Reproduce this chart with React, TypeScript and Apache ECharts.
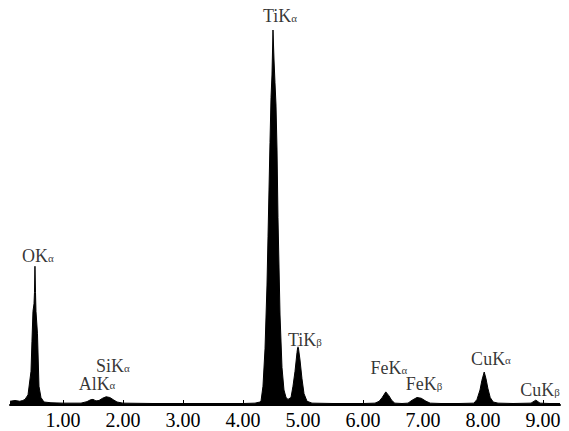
import React, { useEffect, useRef } from "react";
import * as echarts from "echarts";

// Spectrum: energy (keV) and counts (relative)
const energy = [
  0.117, 0.2, 0.28, 0.33, 0.367, 0.417, 0.467, 0.483, 0.5, 0.517, 0.525, 0.533, 0.542, 0.55, 0.575, 0.6, 0.633, 0.683,
  0.8, 1.0, 1.2, 1.3, 1.4, 1.46, 1.5, 1.55, 1.6, 1.66, 1.72, 1.78, 1.84, 1.9, 2.0,
  2.5, 3.0, 3.5, 4.0, 4.2, 4.283, 4.3, 4.333, 4.367, 4.4, 4.417, 4.45, 4.467, 4.483, 4.5,
  4.517, 4.533, 4.55, 4.567, 4.583, 4.617, 4.65, 4.683, 4.717, 4.75, 4.8, 4.833, 4.867,
  4.9, 4.917, 4.95, 4.983, 5.017, 5.067, 5.15, 5.5, 6.0, 6.2, 6.27, 6.32, 6.38, 6.43,
  6.48, 6.53, 6.65, 6.75, 6.82, 6.9, 6.97, 7.05, 7.12, 7.3, 7.6, 7.85, 7.9, 7.95, 7.98,
  8.02, 8.05, 8.08, 8.12, 8.17, 8.25, 8.5, 8.8, 8.88, 8.95, 9.1, 9.283,
];
const counts = [
  1.0, 1.2, 1.0, 1.2, 1.5, 2.7, 9, 17, 25, 27, 30, 37, 30, 25, 19, 5, 2, 0.8,
  0.6, 0.5, 0.5, 0.5, 0.9, 1.4, 1.5, 1.1, 1.2, 1.8, 2.2, 2.0, 1.4, 0.8, 0.5,
  0.4, 0.4, 0.4, 0.4, 0.5, 0.8, 1, 5, 15, 32, 45, 70, 82, 88, 100,
  92, 86, 80, 68, 50, 24, 10, 4, 2, 1.5, 2, 5, 9,
  14, 16, 12, 7, 3, 1, 0.5, 0.4, 0.4, 0.5, 1.0, 2, 3.5, 2.5,
  1.2, 0.5, 0.4, 0.5, 1.3, 2.0, 1.8, 1.0, 0.5, 0.4, 0.4, 0.5, 1.5, 4, 6.5,
  8.8, 7, 4.5, 2, 0.8, 0.5, 0.4, 0.5, 1.3, 0.5, 0.4, 0.4,
];

// Peak labels
const peakNames = ["OK", "AlK", "SiK", "TiK", "TiK", "FeK", "FeK", "CuK", "CuK"];
const peakSubs = ["α", "α", "α", "α", "β", "α", "β", "α", "β"];
const peakLabelX = [0.583, 1.567, 1.833, 4.617, 5.033, 6.433, 7.017, 8.133, 8.95];
const peakLabelY = [39.7, 5.7, 10.4, 103.7, 17.3, 9.8, 5.5, 12.3, 4.0];

// Axis ticks
const tickValues = [1, 2, 3, 4, 5, 6, 7, 8, 9];

const FONT = "'Liberation Serif', 'Times New Roman', serif";

export default function App() {
  const ref = useRef<HTMLDivElement>(null);
  useEffect(() => {
    if (!ref.current) return;
    const chart = echarts.init(ref.current, null, { renderer: "svg" });
    const lineData = energy.map((e, i) => [e, counts[i]]);
    const labelData = peakLabelX.map((x, i) => ({
      value: [x, peakLabelY[i]],
      name: peakNames[i],
      sub: peakSubs[i],
    }));
    chart.setOption({
      animation: false,
      backgroundColor: "#fff",
      grid: { left: 10, right: 9, top: 7.5, bottom: 26 },
      xAxis: {
        type: "value",
        min: 0.117,
        max: 9.283,
        splitLine: { show: false },
        axisLine: { show: true, lineStyle: { color: "#000", width: 2 } },
        axisTick: {
          show: true,
          inside: true,
          length: 5,
          customValues: tickValues,
          lineStyle: { color: "#000", width: 1 },
        },
        axisLabel: {
          customValues: tickValues,
          color: "#000",
          fontFamily: FONT,
          fontSize: 20,
          margin: 5,
          formatter: (v: number) => v.toFixed(2),
        },
      },
      yAxis: {
        type: "value",
        min: 0,
        max: 106,
        show: false,
        splitLine: { show: false },
      },
      series: [
        {
          type: "line",
          data: lineData,
          symbol: "none",
          lineStyle: { color: "#000", width: 1 },
          areaStyle: { color: "#000", opacity: 1 },
          silent: true,
        },
        {
          type: "scatter",
          data: labelData,
          symbolSize: 0,
          silent: true,
          label: {
            show: true,
            position: "inside",
            backgroundColor: "#fff",
            padding: 0,
            formatter: (p: any) => `{m|${p.data.name}}{s|${p.data.sub}}`,
            rich: {
              m: { fontFamily: FONT, fontSize: 18, lineHeight: 14, color: "#000" },
              s: { fontFamily: FONT, fontSize: 11, lineHeight: 9, color: "#000", verticalAlign: "bottom" },
            },
          },
          z: 5,
        },
      ],
    });
    return () => chart.dispose();
  }, []);
  return <div ref={ref} style={{ width: 569, height: 431, position: "absolute", left: 0, top: 0 }} />;
}
